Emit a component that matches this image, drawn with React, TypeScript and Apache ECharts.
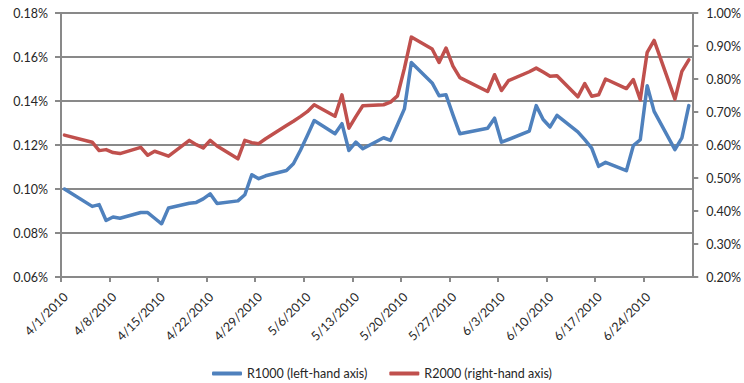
import React, { useEffect, useRef } from "react";
import * as echarts from "echarts";

const dates = [
  "4/1/2010", "4/5/2010", "4/6/2010", "4/7/2010", "4/8/2010", "4/9/2010",
  "4/12/2010", "4/13/2010", "4/14/2010", "4/15/2010", "4/16/2010",
  "4/19/2010", "4/20/2010", "4/21/2010", "4/22/2010", "4/23/2010",
  "4/26/2010", "4/27/2010", "4/28/2010", "4/29/2010", "4/30/2010",
  "5/3/2010", "5/4/2010", "5/5/2010", "5/6/2010", "5/7/2010",
  "5/10/2010", "5/11/2010", "5/12/2010", "5/13/2010", "5/14/2010",
  "5/17/2010", "5/18/2010", "5/19/2010", "5/20/2010", "5/21/2010",
  "5/24/2010", "5/25/2010", "5/26/2010", "5/27/2010", "5/28/2010",
  "6/1/2010", "6/2/2010", "6/3/2010", "6/4/2010",
  "6/7/2010", "6/8/2010", "6/9/2010", "6/10/2010", "6/11/2010",
  "6/14/2010", "6/15/2010", "6/16/2010", "6/17/2010", "6/18/2010",
  "6/21/2010", "6/22/2010", "6/23/2010", "6/24/2010", "6/25/2010",
  "6/28/2010", "6/29/2010", "6/30/2010",
];

// R1000, left-hand axis (%)
const r1000 = [
  0.1, 0.0921, 0.0929, 0.0857, 0.0873, 0.0867,
  0.0893, 0.0893, 0.0867, 0.0842, 0.0914,
  0.0935, 0.0939, 0.0955, 0.0978, 0.0934,
  0.0946, 0.0974, 0.1065, 0.1047, 0.106,
  0.1084, 0.1115, 0.1175, 0.1242, 0.1311,
  0.1251, 0.1297, 0.1175, 0.1213, 0.1183,
  0.1233, 0.1221, 0.1292, 0.1364, 0.1575,
  0.1482, 0.1424, 0.1428, 0.1337, 0.1251,
  0.1276, 0.1322, 0.1213, 0.1225,
  0.1263, 0.1379, 0.1316, 0.1282, 0.1335,
  0.126, 0.1224, 0.1186, 0.1103, 0.1121,
  0.1083, 0.1197, 0.1224, 0.1469, 0.1353,
  0.1179, 0.1232, 0.1379,
];

// R2000, right-hand axis (%)
const r2000 = [
  0.63, 0.6085, 0.583, 0.586, 0.577, 0.574,
  0.593, 0.569, 0.581, 0.574, 0.566,
  0.614, 0.601, 0.591, 0.614, 0.597,
  0.558, 0.614, 0.607, 0.604, 0.619,
  0.659, 0.672, 0.686, 0.701, 0.722,
  0.687, 0.752, 0.651, 0.686, 0.719,
  0.722, 0.73, 0.749, 0.832, 0.927,
  0.891, 0.85, 0.894, 0.839, 0.804,
  0.762, 0.813, 0.765, 0.795,
  0.822, 0.833, 0.821, 0.808, 0.81,
  0.746, 0.786, 0.748, 0.752, 0.8,
  0.771, 0.798, 0.737, 0.881, 0.917,
  0.739, 0.823, 0.858,
];

const seriesNames = ["R1000 (left-hand axis)", "R2000 (right-hand axis)"];
const startDate = "4/1/2010";
const endDate = "7/1/2010";

const DAY = 86400000;
const parse = (s: string) => {
  const [m, d, y] = s.split("/").map(Number);
  return Date.UTC(y, m - 1, d);
};
const t0 = parse(startDate);
const totalDays = Math.round((parse(endDate) - t0) / DAY);
const dayOf = (s: string) => Math.round((parse(s) - t0) / DAY);
const fmtDay = (n: number) => {
  const dt = new Date(t0 + n * DAY);
  return `${dt.getUTCMonth() + 1}/${dt.getUTCDate()}/${dt.getUTCFullYear()}`;
};

const FONT = "Lato";
const TEXT = "#262626";
const GRID = "#898989";
const AX_FS = 12.5;

export default function App() {
  const ref = useRef<HTMLDivElement>(null);
  useEffect(() => {
    if (!ref.current) return;
    const chart = echarts.init(ref.current, undefined, { renderer: "svg" });
    const pts = (vals: number[]) => dates.map((d, i) => [dayOf(d) + 0.5, vals[i]]);
    chart.setOption({
      animation: false,
      backgroundColor: "#fff",
      textStyle: { fontFamily: FONT },
      grid: { left: 61, right: 50, top: 13, bottom: 106, containLabel: false },
      legend: {
        left: 207,
        top: 362,
        icon: "roundRect",
        itemWidth: 30,
        itemHeight: 4,
        itemGap: 22,
        textStyle: { fontFamily: FONT, fontSize: 12.5, color: TEXT },
        data: seriesNames,
      },
      xAxis: {
        type: "value",
        min: 0,
        max: totalDays,
        interval: 7,
        splitLine: { show: false },
        axisLine: { show: true, lineStyle: { color: GRID, width: 2 } },
        axisTick: { show: true, length: 5, lineStyle: { color: GRID, width: 2 } },
        axisLabel: {
          rotate: 45,
          margin: 13,
          verticalAlign: "top",
          fontFamily: FONT,
          fontSize: AX_FS,
          color: TEXT,
          showMaxLabel: false,
          formatter: (v: number) => (v >= totalDays ? "" : fmtDay(v)),
        },
      },
      yAxis: [
        {
          type: "value",
          min: 0.06,
          max: 0.18,
          interval: 0.02,
          position: "left",
          axisLine: { show: true, lineStyle: { color: GRID, width: 2 } },
          axisTick: { show: true, length: 6, lineStyle: { color: GRID, width: 2 } },
          splitLine: { show: true, lineStyle: { color: GRID, width: 2 } },
          axisLabel: {
            margin: 13,
            fontFamily: FONT,
            fontSize: AX_FS,
            color: TEXT,
            formatter: (v: number) => v.toFixed(2) + "%",
          },
        },
        {
          type: "value",
          min: 0.2,
          max: 1.0,
          interval: 0.1,
          position: "right",
          axisLine: { show: true, lineStyle: { color: GRID, width: 2 } },
          axisTick: { show: true, length: 6, lineStyle: { color: GRID, width: 2 } },
          splitLine: { show: false },
          axisLabel: {
            margin: 14,
            fontFamily: FONT,
            fontSize: AX_FS,
            color: TEXT,
            formatter: (v: number) => v.toFixed(2) + "%",
          },
        },
      ],
      series: [
        {
          name: seriesNames[0],
          type: "line",
          yAxisIndex: 0,
          data: pts(r1000),
          showSymbol: false,
          symbol: "none",
          lineStyle: { color: "#4F81BD", width: 3.5, cap: "round", join: "round" },
          itemStyle: { color: "#4F81BD" },
        },
        {
          name: seriesNames[1],
          type: "line",
          yAxisIndex: 1,
          data: pts(r2000),
          showSymbol: false,
          symbol: "none",
          lineStyle: { color: "#C0504D", width: 3.5, cap: "round", join: "round" },
          itemStyle: { color: "#C0504D" },
        },
      ],
    });
    return () => chart.dispose();
  }, []);
  return (
    <div
      ref={ref}
      style={{ position: "absolute", left: 0, top: 0, width: 744, height: 383 }}
    />
  );
}
